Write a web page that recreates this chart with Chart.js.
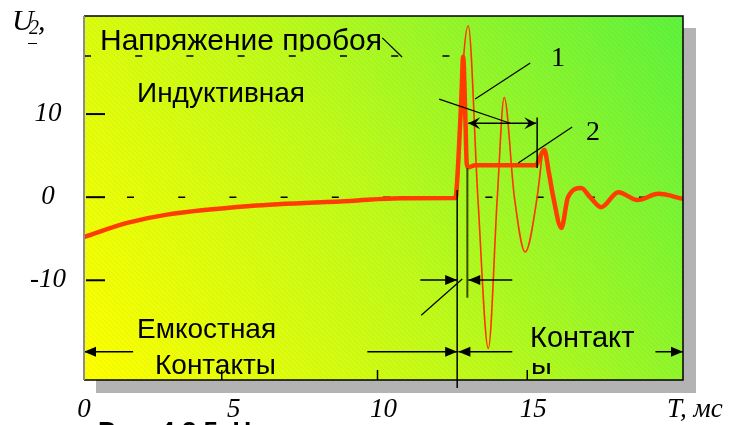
<!DOCTYPE html>
<html><head><meta charset="utf-8">
<script src="https://cdn.jsdelivr.net/npm/chart.js@4.4.1/dist/chart.umd.min.js"></script>
<style>html,body{margin:0;padding:0;background:#fff;overflow:hidden}canvas{display:block}</style>
</head><body>
<canvas id="c" width="731" height="425"></canvas>
<script>
// ---- data ----
const xTickValues = [0, 5, 10, 15];
const xTickLabels = ['0', '5', '10', '15'];
const xTickMarkValues = [4.6, 9.8, 14.8];
const yTickValues = [10, 0, -10];
const yTickLabels = ['10', '0', '-10'];
const xAxisTitle = 'T, мс';
const yAxisTitle = 'U';
const yAxisTitleSub = '2';
const breakdownLevel = 17;

// curve 2 (thick)
const curve2Time = [0, 1.44, 2.77, 5.55, 8.9, 10.56, 12.4, 12.5, 12.6, 12.66, 12.73, 12.78, 12.83, 13.06, 15.1, 15.2, 15.37, 15.52, 15.67, 15.94, 16.16, 16.6, 16.9, 17.27, 17.84, 18.48, 19.18, 20];
const curve2Volt = [-4.8, -3.1, -2.1, -1.06, -0.45, -0.13, -0.1, 4.5, 12, 16.9, 10, 4, 3.6, 3.85, 3.85, 4.6, 5.7, 3, 0, -3.7, 0, 1.1, 0, -1.2, 0.6, -0.35, 0.4, -0.2];

// curve 1 (thin)
const curve1Time = [12.47, 12.66, 12.83, 13.15, 13.5, 13.8, 14.03, 14.37, 14.73, 15.13, 15.3];
const curve1Volt = [0, 16, 20.6, 0, -18.2, 0, 12, 0, -6.6, 0, 5.2];

// annotation texts
const labelBreakdown = 'Напряжение пробоя';
const labelInductive = 'Индуктивная';
const labelCapacitive = 'Емкостная';
const labelContacts = 'Контакты';
const labelContact = 'Контакт';
const labelContactTail = 'ы';
const labelCurve1 = '1';
const labelCurve2 = '2';
const caption = 'Рис. 4.2.5. Напряжение на контактах при отключении индуктивной и емкостной нагрузки';

// annotation geometry in data units (t, U)
const plainLines = [
  {p: [[12.46, 0.85], [12.46, -22.96]], c: '#000', w: 1.5},
  {p: [[12.8, 3.5], [12.8, -12.1]], c: '#3d4a00', w: 2},
  {p: [[15.13, 9.6], [15.13, 3.5]], c: '#000', w: 1.5},
  {p: [[11.86, 11.8], [14.23, 8.9]], c: '#000', w: 1.2},
  {p: [[14.9, 16.15], [13.06, 11.8]], c: '#000', w: 1.2},
  {p: [[16.3, 8.45], [14.5, 4.1]], c: '#000', w: 1.2},
  {p: [[11.26, -14.2], [12.63, -9.85]], c: '#000', w: 1.2},
  {p: [[9.96, 19.16], [10.62, 16.87]], c: '#000', w: 1.2}
];
const arrows = [
  {from: [12.83, 8.9], to: [15.1, 8.9], both: true, stealth: true},
  {from: [11.23, -9.96], to: [12.46, -9.96]},
  {from: [14.3, -9.96], to: [12.83, -9.96]},
  {from: [1.64, -18.6], to: [0, -18.6]},
  {from: [9.46, -18.6], to: [12.46, -18.6]},
  {from: [14.3, -18.6], to: [12.5, -18.6]},
  {from: [19.08, -18.6], to: [20, -18.6]}
];

const SANS = '"Liberation Sans", Arial, sans-serif';
const SERIF = '"Liberation Serif", "Times New Roman", serif';

function head(ctx, tx, ty, dir, stealth) {
  const len = 12, half = stealth ? 6 : 5;
  ctx.beginPath();
  ctx.moveTo(tx, ty);
  ctx.lineTo(tx - dir * len, ty - half);
  if (stealth) ctx.lineTo(tx - dir * len * 0.6, ty);
  ctx.lineTo(tx - dir * len, ty + half);
  ctx.closePath();
  ctx.fill();
}

const decor = {
  id: 'decor',
  beforeDraw(chart) {
    const {ctx, chartArea: a, scales: {x, y}} = chart;
    const W = a.right - a.left, H = a.bottom - a.top;
    ctx.save();
    ctx.fillStyle = '#fff';
    ctx.fillRect(0, 0, chart.width, chart.height);
    ctx.fillStyle = '#b3b3b3';
    ctx.fillRect(a.left + 12, a.top + 12, W + 1, H + 1);
    const g = ctx.createLinearGradient(a.left, a.bottom, a.right, a.top);
    g.addColorStop(0, '#ffff00');
    g.addColorStop(0.5, '#bcfa1c');
    g.addColorStop(1, '#5ef23e');
    ctx.fillStyle = g;
    ctx.fillRect(a.left, a.top, W, H);
    // faint scan hatching
    ctx.save();
    ctx.beginPath(); ctx.rect(a.left, a.top, W, H); ctx.clip();
    ctx.strokeStyle = 'rgba(90,110,0,0.07)';
    ctx.lineWidth = 1;
    for (let s = a.left - H; s < a.right; s += 5) {
      ctx.beginPath(); ctx.moveTo(s, a.top); ctx.lineTo(s + H, a.bottom); ctx.stroke();
    }
    ctx.restore();

    // dashed reference levels
    ctx.strokeStyle = '#000';
    ctx.lineWidth = 1.5;
    ctx.setLineDash([7, 44.2]);
    const yb = y.getPixelForValue(breakdownLevel);
    ctx.lineDashOffset = 0;
    ctx.beginPath(); ctx.moveTo(a.left, yb); ctx.lineTo(x.getPixelForValue(12.4), yb); ctx.stroke();
    const y0 = y.getPixelForValue(0);
    ctx.lineDashOffset = 8.2;
    ctx.beginPath(); ctx.moveTo(a.left, y0); ctx.lineTo(a.right, y0); ctx.stroke();
    ctx.setLineDash([]);

    // tick marks inside the plot
    ctx.lineWidth = 2;
    yTickValues.forEach(v => {
      const py = y.getPixelForValue(v);
      ctx.beginPath(); ctx.moveTo(a.left + 2, py); ctx.lineTo(a.left + 21, py); ctx.stroke();
    });
    ctx.lineWidth = 1.5;
    xTickMarkValues.forEach(v => {
      const px = x.getPixelForValue(v);
      ctx.beginPath(); ctx.moveTo(px, a.bottom - 10); ctx.lineTo(px, a.bottom); ctx.stroke();
    });

    // texts inside plot
    ctx.fillStyle = '#000';
    ctx.textBaseline = 'alphabetic';
    ctx.textAlign = 'left';
    ctx.save();
    ctx.beginPath(); ctx.rect(a.left, a.top, W, 51.5 - a.top); ctx.clip();
    ctx.font = '30px ' + SANS;
    ctx.fillText(labelBreakdown, 100, 50);
    ctx.restore();
    ctx.font = '28px ' + SANS;
    ctx.fillText(labelInductive, 137, 102);
    ctx.fillText(labelCapacitive, 137, 338);
    ctx.fillText(labelContacts, 155, 374);
    ctx.font = '29px ' + SANS;
    ctx.fillText(labelContact, 530, 347);
    ctx.save();
    ctx.beginPath(); ctx.rect(520, 363, 60, a.bottom - 363); ctx.clip();
    ctx.fillText(labelContactTail, 531, 374);
    ctx.restore();

    // outside texts
    ctx.font = 'italic 30px ' + SERIF;
    ctx.fillText(yAxisTitle, 12, 30);
    ctx.font = 'italic 20px ' + SERIF;
    ctx.fillText(yAxisTitleSub, 29, 34);
    ctx.font = 'italic 30px ' + SERIF;
    ctx.fillText(',', 38, 30);
    ctx.lineWidth = 1;
    ctx.beginPath(); ctx.moveTo(28, 43.5); ctx.lineTo(37, 43.5); ctx.stroke();
    ctx.font = 'italic 27px ' + SERIF;
    ctx.textBaseline = 'middle';
    ctx.fillText(xAxisTitle, 667, 410);
    ctx.textBaseline = 'top';
    ctx.font = 'bold 26px ' + SANS;
    ctx.fillText(caption, 98, 420);
    ctx.restore();
  },
  afterDatasetsDraw(chart) {
    const {ctx, chartArea: a, scales: {x, y}} = chart;
    const P = (pt) => [x.getPixelForValue(pt[0]), y.getPixelForValue(pt[1])];
    ctx.save();
    plainLines.forEach(l => {
      const p1 = P(l.p[0]), p2 = P(l.p[1]);
      ctx.strokeStyle = l.c; ctx.lineWidth = l.w;
      ctx.beginPath(); ctx.moveTo(p1[0], p1[1]); ctx.lineTo(p2[0], p2[1]); ctx.stroke();
    });
    ctx.strokeStyle = '#000'; ctx.fillStyle = '#000'; ctx.lineWidth = 1.5;
    arrows.forEach(ar => {
      const p1 = P(ar.from), p2 = P(ar.to);
      ctx.beginPath(); ctx.moveTo(p1[0], p1[1]); ctx.lineTo(p2[0], p2[1]); ctx.stroke();
      const dir = p2[0] > p1[0] ? 1 : -1;
      head(ctx, p2[0], p2[1], dir, ar.stealth);
      if (ar.both) head(ctx, p1[0], p1[1], -dir, ar.stealth);
    });
    // curve labels
    ctx.font = '28px ' + SERIF;
    ctx.textBaseline = 'alphabetic';
    ctx.fillText(labelCurve1, 551, 66);
    ctx.fillText(labelCurve2, 586, 140);
    // frame
    ctx.lineWidth = 1.5;
    ctx.strokeStyle = '#000';
    ctx.beginPath();
    ctx.moveTo(a.left, a.top); ctx.lineTo(a.right, a.top); ctx.lineTo(a.right, a.bottom); ctx.lineTo(a.left, a.bottom);
    ctx.stroke();
    ctx.strokeStyle = '#8c8c8c'; ctx.lineWidth = 2;
    ctx.beginPath(); ctx.moveTo(a.left, a.top); ctx.lineTo(a.left, a.bottom); ctx.stroke();
    ctx.restore();
  }
};

const tickFont = {family: SERIF, size: 27, style: 'italic'};

new Chart(document.getElementById('c'), {
  type: 'line',
  data: {
    datasets: [
      {
        label: '2',
        data: curve2Time.map((t, i) => ({x: t, y: curve2Volt[i]})),
        borderColor: '#ff3c00', borderWidth: 4.5, pointRadius: 0,
        cubicInterpolationMode: 'monotone', fill: false, order: 0
      },
      {
        label: '1',
        data: curve1Time.map((t, i) => ({x: t, y: curve1Volt[i]})),
        borderColor: '#ff3300', borderWidth: 1.6, pointRadius: 0,
        cubicInterpolationMode: 'monotone', fill: false, order: 1
      }
    ]
  },
  options: {
    responsive: false,
    animation: false,
    devicePixelRatio: 1,
    layout: {padding: {top: 16, right: 48, left: 0, bottom: 0}},
    plugins: {legend: {display: false}, tooltip: {enabled: false}},
    scales: {
      x: {
        type: 'linear', min: 0, max: 20,
        grid: {display: false, drawTicks: false}, border: {display: false},
        afterBuildTicks: s => { s.ticks = xTickValues.map(v => ({value: v})); },
        afterFit: s => { s.height = 45; s.paddingLeft = 0; s.paddingRight = 0; },
        ticks: {
          autoSkip: false, maxRotation: 0, padding: 14, color: '#000', font: tickFont,
          callback: (v, i) => xTickLabels[i]
        }
      },
      y: {
        type: 'linear', min: -22, max: 21.8,
        grid: {display: false, drawTicks: false}, border: {display: false},
        afterBuildTicks: s => { s.ticks = yTickValues.map(v => ({value: v})); },
        afterFit: s => { s.width = 84; s.paddingTop = 0; s.paddingBottom = 0; },
        ticks: {
          autoSkip: false, padding: 18, crossAlign: 'center', color: '#000', font: tickFont,
          callback: (v, i) => yTickLabels[i]
        }
      }
    }
  },
  plugins: [decor]
});
</script>
</body></html>
